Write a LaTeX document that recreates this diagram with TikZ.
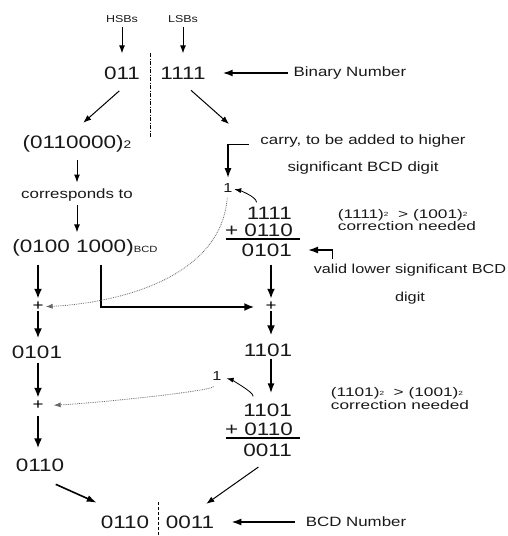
\documentclass[tikz,border=0pt]{standalone}
\usepackage{fontspec}
\setmainfont[FakeStretch=1.25]{Liberation Sans}
\newfontfamily\condfont[FakeStretch=1.38]{Liberation Sans}
\usetikzlibrary{arrows.meta,positioning,calc}
\newcommand{\bsub}{\raisebox{1.5pt}{\fontsize{6}{6}\selectfont 2}}

\begin{document}
\begin{tikzpicture}[x=1pt,y=-1pt,
    num/.style={inner sep=0pt,text height=12.9pt,text depth=0pt,
                font=\fontsize{18}{20}\selectfont,text=black!90},
    sml/.style={inner sep=0pt,text height=7.2pt,text depth=0pt,
                font=\fontsize{10}{12}\selectfont,text=black!90},
    lbl/.style={inner sep=0pt,font=\fontsize{13.5}{16}\selectfont,text=black!90},
    one/.style={inner sep=0pt,text height=9.3pt,text depth=0pt,
                font=\fontsize{13}{14}\selectfont,text=black!90},
    pls/.style={inner sep=0pt,text height=6pt,text depth=0pt,
                font=\fontsize{15}{15}\selectfont},
    cond/.style={inner sep=0pt,align=left,font=\condfont\fontsize{12.5}{10.5}\selectfont,
                 text=black!90},
    arr/.style={-{Latex[length=8pt,width=6pt]},line width=1pt},
    arrb/.style={-{Latex[length=10pt,width=7pt]},line width=1.6pt},
    thk/.style={-{Latex[length=10pt,width=8pt]},line width=2.2pt},
    back/.style={-{Latex[length=7pt,width=5pt]},line width=0.8pt},
    dots/.style={-{Latex[length=7pt,width=5pt]},densely dotted,line width=0.8pt,draw=black!60},
    sep/.style={line width=0.8pt,dash pattern=on 4pt off 1.5pt on 1pt off 1.5pt},
    rule/.style={line width=2pt},
  ]
  \useasboundingbox (0,0) rectangle (507,536);

  \node[sml](hsb) at (122,19) {HSBs};
  \node[sml](lsb) at (183,19) {LSBs};
  \node[num](b011) at (122,73) {011};
  \node[num](b1111) at (183,73) {1111};
  \node[lbl](binlbl) at (350,73) {Binary Number};
  \node[num](bin2) at (77,142) {(0110000){\fontsize{11}{11}\selectfont 2}};
  \node[lbl,align=center,font=\fontsize{13.5}{27}\selectfont](carry) at (363,154.5)
    {carry, to be added to higher\\significant BCD digit};
  \node[lbl](corr) at (77,195) {corresponds to};
  \node[num](bcd) at (85,246) {(0100 1000){\fontsize{9}{9}\selectfont BCD}};
  \node[one](c1) at (228,188) {1};
  \node[num,anchor=east](s1a) at (292,213) {1111};
  \node[num,anchor=east](s1b) at (293,230) {+ 0110};
  \node[num,anchor=east](s1c) at (292,250) {0101};
  \node[cond](cond1) at (407,220) {(1111)\bsub~~> (1001)\bsub\\correction needed};
  \node[lbl,align=center,font=\fontsize{13}{28}\selectfont](valid) at (410,284)
    {valid lower significant BCD\\digit};
  \node[pls](plus1) at (38,307) {+};
  \node[pls](plus2) at (271,307) {+};
  \node[num](r0101) at (37,352) {0101};
  \node[num](r1101) at (268,350) {1101};
  \node[one](c2) at (217,376) {1};
  \node[pls](plus3) at (38,406) {+};
  \node[num,anchor=east](s2a) at (292,410) {1101};
  \node[num,anchor=east](s2b) at (293,429) {+ 0110};
  \node[num,anchor=east](s2c) at (292,450) {0011};
  \node[cond](cond2) at (400,398.5) {(1101)\bsub~~> (1001)\bsub\\correction needed};
  \node[num](r0110) at (40,465) {0110};
  \node[num](f0110) at (125,522) {0110};
  \node[num](f0011) at (190,522) {0011};
  \node[lbl](bcdlbl) at (356,522) {BCD Number};
  \coordinate (lsbend) at (229,124);

  \draw[arr,shorten <=4pt,shorten >=13pt](hsb)--(b011);
  \draw[arr,shorten <=4pt,shorten >=13pt](lsb)--(b1111);
  \draw[arrb,shorten <=6pt,shorten >=17pt](binlbl)--(b1111);
  \draw[sep](150,53)--(150,137);
  \draw[arr,shorten <=17pt,shorten >=19pt]([xshift=10pt]b011.south)--([xshift=-8pt]bin2.north);
  \draw[arr,shorten <=16pt]([xshift=-4pt]b1111.south)--(lsbend);
  \draw[arrb,shorten >=5pt]([xshift=-11pt,yshift=-10pt]carry.north west)-|(c1);
  \draw[arr,shorten <=11pt,shorten >=6pt](bin2)--(bin2 |- corr.north);
  \draw[arr,shorten <=4pt,shorten >=7pt](corr)--(corr |- bcd.north);
  \draw[back,shorten <=4pt,shorten >=1.5pt]([xshift=10pt]s1a.north west)
    .. controls +(0,-10) and +(10,2) .. (c1);
  \draw[rule](226,239)--(300,239);
  \draw[arrb,shorten >=16pt]([xshift=19pt,yshift=5pt]valid.north west)|-(s1c);
  \draw[thk,shorten <=12pt,shorten >=5pt](bcd.south -| plus1)--(plus1);
  \draw[thk,shorten <=12pt,shorten >=11pt]([xshift=16pt]bcd.south)|-(plus2);
  \draw[dots,shorten <=5pt,shorten >=2pt](c1) .. controls +(-7,90) and +(80,-4) .. (plus1);
  \draw[thk,shorten <=8pt,shorten >=5pt](s1c.south -| plus2)--(plus2);
  \draw[thk,shorten <=1pt,shorten >=7pt](plus1)--(plus1 |- r0101.north);
  \draw[thk,shorten <=1pt,shorten >=8pt](plus2)--(plus2 |- r1101.north);
  \draw[thk,shorten <=4pt,shorten >=5pt](r0101.south -| plus3)--(plus3);
  \draw[arrb,shorten <=2pt,shorten >=10pt](plus2 |- r1101.south)--(plus2 |- s2a.north);
  \draw[back,shorten <=7pt,shorten >=5pt]([xshift=10pt]s2a.north west)
    .. controls +(0,-12) and +(12,3) .. (c2);
  \draw[dots,shorten <=6pt,shorten >=10pt](c2) .. controls +(-5,15) and +(60,-3) .. (plus3);
  \draw[rule](226,438)--(300,438);
  \draw[thk,shorten <=7pt,shorten >=10pt](plus3)--(plus3 |- r0110.north);
  \draw[arrb,shorten <=31pt,shorten >=31pt]([xshift=-12.5pt]r0110.south)--(f0110.north);
  \draw[arr,shorten <=18pt,shorten >=20pt]([xshift=5.5pt]s2c.south)--(f0011.north);
  \draw[sep,dash pattern=on 3pt off 2pt](158,502)--(158,536);
  \draw[arrb,shorten <=11pt,shorten >=17pt](bcdlbl)--(f0011);
\end{tikzpicture}
\end{document}
